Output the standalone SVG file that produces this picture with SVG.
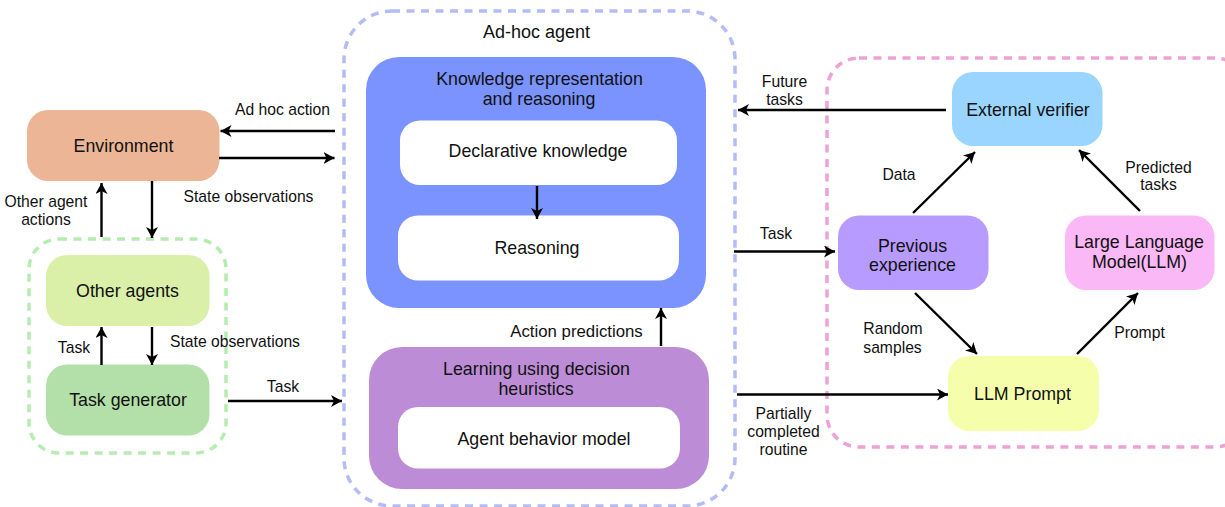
<svg xmlns="http://www.w3.org/2000/svg" width="1225" height="507" viewBox="0 0 1225 507">
<defs>
<marker id="ah" markerUnits="userSpaceOnUse" markerWidth="12" markerHeight="12" refX="11" refY="6" orient="auto" viewBox="0 0 12 12"><path d="M0 0L11 6L0 12L3 6Z" fill="#000"/></marker>
</defs>
<style>
text{font-family:"Helvetica Neue","Liberation Sans",Arial,sans-serif;fill:#111;text-anchor:middle}
.n{font-size:17.800px}
.l{font-size:15.700px}
.d{fill:none;stroke-width:3.500;stroke-dasharray:8 6.500}
.c{fill:none;stroke:#000;stroke-width:2.400;marker-end:url(#ah)}
.w{fill:#fff}
</style>
<rect width="1225" height="507" fill="#fff"/>
<g id="group-other"><rect class="d" x="29" y="239" width="197" height="214" rx="30" stroke="#b5edb0"/></g>
<g id="group-adhoc"><rect class="d" x="344" y="11" width="391" height="495" rx="48" stroke="#b4bcf8"/></g>
<g id="group-llm"><rect class="d" x="827" y="58" width="420" height="389" rx="32" stroke="#eda2d6"/></g>
<g id="environment"><rect x="27" y="110" width="192.500" height="71" rx="21" fill="#ebb596"/><text class="n" x="123.500" y="151.500">Environment</text></g>
<g id="other-agents"><rect x="46" y="255" width="163.500" height="71" rx="21" fill="#daf0a9"/><text class="n" x="127.500" y="296.500">Other agents</text></g>
<g id="task-generator"><rect x="46" y="364.500" width="163.500" height="71" rx="21" fill="#b3e0a9"/><text class="n" x="128" y="406">Task generator</text></g>
<g id="knowledge"><rect x="366" y="57" width="340" height="251" rx="33" fill="#7a93ff"/><text class="n" x="539.500" y="84.500">Knowledge representation</text><text class="n" x="539" y="104.500">and reasoning</text></g>
<g id="declarative"><rect class="w" x="400" y="120.500" width="277" height="64.500" rx="20"/><text class="n" x="538" y="157">Declarative knowledge</text></g>
<g id="reasoning"><rect class="w" x="398" y="215.500" width="281" height="65" rx="20"/><text class="n" x="537" y="254">Reasoning</text></g>
<g id="learning"><rect x="369" y="347" width="340" height="142" rx="33" fill="#bc8dd6"/><text class="n" x="536.500" y="375">Learning using decision</text><text class="n" x="536" y="395">heuristics</text></g>
<g id="agent-behavior"><rect class="w" x="398" y="407" width="282" height="61.500" rx="20"/><text class="n" x="544" y="444.500">Agent behavior model</text></g>
<g id="external-verifier"><rect x="952" y="72" width="150.500" height="74" rx="21" fill="#99d5ff"/><text class="n" x="1028" y="116">External verifier</text></g>
<g id="previous-experience"><rect x="838" y="215.500" width="150.500" height="74.500" rx="21" fill="#b89bff"/><text class="n" x="912.500" y="251.500">Previous</text><text class="n" x="912.500" y="271">experience</text></g>
<g id="llm"><rect x="1065" y="215.500" width="149.500" height="74.500" rx="21" fill="#fbb8f6"/><text class="n" x="1139" y="247.500">Large Language</text><text class="n" x="1139.500" y="267.500">Model(LLM)</text></g>
<g id="llm-prompt"><rect x="948" y="356" width="151" height="75" rx="21" fill="#f5ffab"/><text class="n" x="1022.500" y="399.500">LLM Prompt</text></g>
<g id="connectors">
<path class="c" d="M335 131H220.500"/>
<path class="c" d="M219 158H334.500"/>
<path class="c" d="M101.500 237V183"/>
<path class="c" d="M152 181V238"/>
<path class="c" d="M101.500 365V327"/>
<path class="c" d="M152 327V365"/>
<path class="c" d="M228 401H342"/>
<path class="c" d="M537 186V219"/>
<path class="c" d="M661 346V308"/>
<path class="c" d="M946 110H738"/>
<path class="c" d="M734 251.500H835"/>
<path class="c" d="M737 394.500H948"/>
<path class="c" d="M913 213L975 152"/>
<path class="c" d="M1140 211L1079 150"/>
<path class="c" d="M915 293L977 354"/>
<path class="c" d="M1077 354L1138 293"/>
</g>
<g id="labels">
<text x="536.500" y="38" style="font-size:18px">Ad-hoc agent</text>
<text class="l" x="282.500" y="114.500">Ad hoc action</text>
<text class="l" x="248.500" y="201.500">State observations</text>
<text class="l" x="46" y="207">Other agent</text><text class="l" x="46" y="225">actions</text>
<text class="l" x="74" y="352.500">Task</text>
<text class="l" x="235" y="346.500">State observations</text>
<text class="l" x="283" y="391.500">Task</text>
<text x="576.500" y="336.500" style="font-size:16.800px">Action predictions</text>
<text class="l" x="784.500" y="87">Future</text><text class="l" x="784.500" y="104.500">tasks</text>
<text class="l" x="776" y="238.500">Task</text>
<text class="l" x="899" y="180">Data</text>
<text class="l" x="1158.500" y="172.500">Predicted</text><text class="l" x="1158.500" y="190">tasks</text>
<text class="l" x="893" y="334">Random</text><text class="l" x="892.500" y="352.500">samples</text>
<text class="l" x="1139.500" y="338">Prompt</text>
<text class="l" x="783.500" y="419">Partially</text><text class="l" x="783.500" y="437">completed</text><text class="l" x="783.500" y="455">routine</text>
</g>
</svg>
